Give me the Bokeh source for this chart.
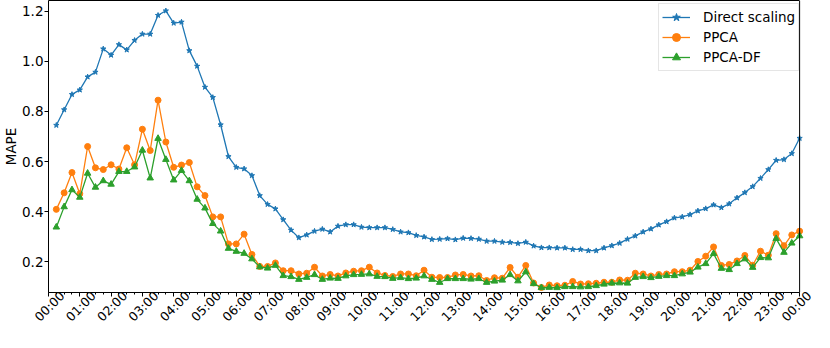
import math
from bokeh.plotting import figure
from bokeh.models import Range1d, FixedTicker, Legend, LegendItem, LinearAxis, Span
from bokeh.embed import file_html
from bokeh.resources import INLINE

# ---- data (15-minute steps, 00:15 .. 24:00) ----
hours = [i * 0.25 for i in range(1, 97)]

direct_scaling = [
    0.745, 0.807, 0.868, 0.886, 0.938, 0.957, 1.050, 1.025, 1.067, 1.046, 1.084, 1.109,
    1.109, 1.184, 1.202, 1.153, 1.157, 1.043, 0.981, 0.897, 0.856, 0.747, 0.620, 0.577,
    0.571, 0.544, 0.464, 0.429, 0.411, 0.368, 0.326, 0.296, 0.307, 0.322, 0.330, 0.319,
    0.342, 0.348, 0.348, 0.338, 0.336, 0.336, 0.336, 0.329,
    0.319, 0.316, 0.305, 0.299, 0.289, 0.290, 0.292, 0.288, 0.294, 0.293, 0.290, 0.282,
    0.282, 0.278, 0.277, 0.273, 0.278, 0.263, 0.256, 0.256, 0.255, 0.255, 0.249, 0.249,
    0.244, 0.244,
    0.255, 0.264, 0.274, 0.290, 0.303, 0.319, 0.331, 0.347, 0.360, 0.375, 0.379, 0.388,
    0.403, 0.412, 0.427, 0.416, 0.431, 0.455, 0.476, 0.500, 0.533, 0.568, 0.605, 0.608,
    0.632, 0.693,
]

ppca = [
    0.409, 0.475, 0.556, 0.471, 0.660, 0.575, 0.568, 0.587, 0.570, 0.655, 0.587, 0.729,
    0.644, 0.845, 0.678, 0.577, 0.586, 0.596, 0.499, 0.464, 0.379, 0.379, 0.271, 0.271,
    0.310, 0.229, 0.181, 0.181, 0.195, 0.164, 0.164, 0.151, 0.154, 0.178, 0.143, 0.149,
    0.143, 0.155, 0.162, 0.164, 0.178, 0.155, 0.145, 0.141,
    0.151, 0.151, 0.144, 0.166, 0.138, 0.137, 0.137, 0.147, 0.149, 0.143, 0.144, 0.125,
    0.136, 0.134, 0.177, 0.138, 0.185, 0.115, 0.097, 0.107, 0.104, 0.106, 0.121, 0.111,
    0.112, 0.114,
    0.118, 0.118, 0.127, 0.126, 0.154, 0.151, 0.143, 0.149, 0.151, 0.160, 0.160, 0.166,
    0.201, 0.222, 0.259, 0.185, 0.189, 0.203, 0.225, 0.186, 0.242, 0.226, 0.312, 0.264,
    0.307, 0.322,
]

ppca_df = [
    0.338, 0.419, 0.487, 0.457, 0.553, 0.497, 0.523, 0.509, 0.560, 0.560, 0.578, 0.645,
    0.534, 0.692, 0.608, 0.526, 0.564, 0.523, 0.449, 0.414, 0.352, 0.322, 0.253, 0.241,
    0.233, 0.211, 0.179, 0.174, 0.185, 0.144, 0.140, 0.129, 0.137, 0.148, 0.129, 0.134,
    0.133, 0.143, 0.148, 0.149, 0.151, 0.141, 0.140, 0.133,
    0.136, 0.132, 0.134, 0.143, 0.129, 0.117, 0.132, 0.132, 0.132, 0.130, 0.132, 0.117,
    0.122, 0.126, 0.148, 0.123, 0.159, 0.112, 0.096, 0.097, 0.096, 0.100, 0.100, 0.099,
    0.100, 0.104,
    0.110, 0.114, 0.115, 0.114, 0.137, 0.140, 0.136, 0.141, 0.144, 0.144, 0.151, 0.158,
    0.178, 0.192, 0.232, 0.173, 0.168, 0.192, 0.211, 0.177, 0.216, 0.215, 0.292, 0.237,
    0.274, 0.303,
]

x_ticks = list(range(25))
x_tick_labels = ["%02d:00" % (h % 24) for h in x_ticks]
x_minor_ticks = [q * 0.25 for q in range(97)]
y_ticks = [0.2, 0.4, 0.6, 0.8, 1.0, 1.2]
y_tick_labels = ["0.2", "0.4", "0.6", "0.8", "1.0", "1.2"]

series_names = ["Direct scaling", "PPCA", "PPCA-DF"]
colors = ["#1f77b4", "#ff7f0e", "#2ca02c"]
markers = ["star", "circle", "triangle"]
marker_sizes = [5.5, 6, 6.5]

FONT = "DejaVu Sans"
TICK_FS = "13.5px"
XTICK_FS = "12.5px"

# ---- layout constants ----
W, H = 814, 332
BORDER_L = 42          # room for the y axis
OVERHANG = 15          # px of room right of 24:00 for the last rotated label
X0, X1 = 0, 24
Y0, Y1 = 0.077, 1.2431
px_per_hour = (W - BORDER_L - OVERHANG) / (X1 - X0)
X1_EXT = X1 + OVERHANG / px_per_hour
LABEL_SHIFT = 0.44     # hours: rotated labels end up centred on their tick

p = figure(
    width=W, height=H,
    x_range=Range1d(X0, X1_EXT), y_range=Range1d(Y0, Y1),
    output_backend="svg", toolbar_location=None,
    min_border_left=BORDER_L, min_border_right=0, min_border_top=0, min_border_bottom=39,
)
p.grid.visible = False
p.outline_line_color = None
p.background_fill_color = "white"
p.border_fill_color = "white"

# bottom axis: spine + ticks over 00:00-24:00
p.xaxis.ticker = FixedTicker(ticks=x_ticks, minor_ticks=x_minor_ticks)
p.xaxis.bounds = (X0, X1)
p.xaxis.major_label_overrides = {t: "" for t in x_ticks}
p.xaxis.major_label_text_font_size = "1px"
p.xaxis.major_label_standoff = 0
# y axis
p.yaxis.ticker = FixedTicker(ticks=y_ticks, minor_ticks=[])
p.yaxis.major_label_overrides = {t: lab for t, lab in zip(y_ticks, y_tick_labels)}
p.yaxis.axis_label = "MAPE"
p.yaxis.major_label_text_font_size = TICK_FS
p.yaxis.axis_label_text_font_size = TICK_FS
p.yaxis.major_label_standoff = 1
p.yaxis.axis_label_standoff = 0

for ax in (p.xaxis[0], p.yaxis[0]):
    ax.axis_line_color = "black"
    ax.major_tick_line_color = "black"
    ax.minor_tick_line_color = "black"
    ax.major_tick_in = 0
    ax.major_tick_out = 4
    ax.minor_tick_in = 0
    ax.minor_tick_out = 2
    ax.major_label_text_font = FONT
    ax.major_label_text_color = "black"
    ax.axis_label_text_font = FONT
    ax.axis_label_text_font_style = "normal"
    ax.axis_label_text_color = "black"

# top spine (axis line only) and right spine at 24:00
top_axis = LinearAxis(
    ticker=FixedTicker(ticks=x_ticks, minor_ticks=[]), bounds=(X0, X1),
    major_label_overrides={t: "" for t in x_ticks},
    axis_line_color="black", axis_line_width=1,
    major_tick_line_color=None, minor_tick_line_color=None,
    major_tick_in=0, major_tick_out=0, minor_tick_in=0, minor_tick_out=0,
    major_label_text_font_size="1px", major_label_standoff=0,
)
p.add_layout(top_axis, "above")
p.add_layout(Span(location=X1, dimension="height", line_color="black", line_width=1))

# rotated x tick labels on a shifted twin axis (so each label is centred on its tick)
p.extra_x_ranges = {"xlab": Range1d(X0 - LABEL_SHIFT, X1_EXT - LABEL_SHIFT)}
lab_axis = LinearAxis(
    x_range_name="xlab",
    ticker=FixedTicker(ticks=x_ticks, minor_ticks=[]),
    major_label_overrides={t: lab for t, lab in zip(x_ticks, x_tick_labels)},
    major_label_orientation=math.pi / 4,
    axis_line_color=None, major_tick_line_color=None, minor_tick_line_color=None,
    major_tick_in=0, major_tick_out=0, minor_tick_in=0, minor_tick_out=0,
    major_label_standoff=-3,
    major_label_text_font=FONT, major_label_text_font_size=XTICK_FS,
    major_label_text_color="black",
)
p.add_layout(lab_axis, "below")

items = []
for name, ys, c, m, s in zip(series_names, [direct_scaling, ppca, ppca_df], colors, markers, marker_sizes):
    r1 = p.line(hours, ys, line_color=c, line_width=1.3)
    r2 = p.scatter(hours, ys, marker=m, size=s, fill_color=c, line_color=c)
    items.append(LegendItem(label=name, renderers=[r1, r2]))

legend = Legend(items=items, location=(610, 221))
legend.label_text_font = FONT
legend.label_text_font_size = "13.5px"
legend.label_text_color = "black"
legend.glyph_width = 28
legend.glyph_height = 20
legend.label_height = 20
legend.label_standoff = 13
legend.spacing = 0
legend.padding = 3
legend.border_line_color = "#cccccc"
legend.border_line_width = 1
legend.background_fill_alpha = 0.8
p.add_layout(legend)

open("out.html", "w").write(file_html(p, INLINE))
